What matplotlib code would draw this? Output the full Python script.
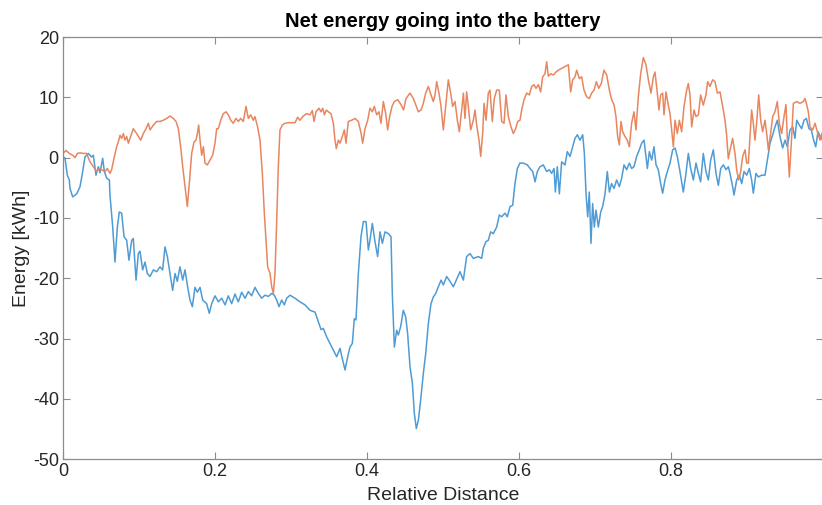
import matplotlib.pyplot as plt

# --- battery energy along the route (blue) ---
blue_x = [
    0.000, 0.0026, 0.0057, 0.0083, 0.0092, 0.0127, 0.0180, 0.0224, 0.0259, 0.0289,
    0.0333, 0.0377, 0.0399, 0.0434, 0.0465, 0.0487, 0.0522, 0.0544, 0.0575, 0.0610,
    0.0618, 0.0654, 0.0684, 0.0715, 0.0741, 0.0772, 0.0803, 0.0838, 0.0868, 0.0904,
    0.0925, 0.0961, 0.0991, 0.1013, 0.1048, 0.1079, 0.1110, 0.1145, 0.1189, 0.1232,
    0.1276, 0.1311, 0.1342, 0.1373, 0.1408, 0.1443, 0.1474, 0.1504, 0.1539, 0.1575,
    0.1605, 0.1640, 0.1671, 0.1702, 0.1737, 0.1768, 0.1803, 0.1838, 0.1890, 0.1925,
    0.1956, 0.2000, 0.2044, 0.2088, 0.2132, 0.2175, 0.2219, 0.2263, 0.2307, 0.2351,
    0.2395, 0.2439, 0.2482, 0.2526, 0.2570, 0.2614, 0.2658, 0.2702, 0.2746, 0.2781,
    0.2811, 0.2842, 0.2877, 0.2912, 0.2943, 0.2987, 0.3053, 0.3118, 0.3184, 0.3250,
    0.3316, 0.3360, 0.3395, 0.3425, 0.3469, 0.3513, 0.3557, 0.3601, 0.3645, 0.3675,
    0.3711, 0.3746, 0.3776, 0.3807, 0.3833, 0.3855, 0.3886, 0.3921, 0.3952, 0.3987,
    0.4018, 0.4039, 0.4070, 0.4105, 0.4140, 0.4171, 0.4202, 0.4237, 0.4281, 0.4316,
    0.4333, 0.4360, 0.4390, 0.4412, 0.4443, 0.4478, 0.4509, 0.4535, 0.4566, 0.4597,
    0.4623, 0.4649, 0.4676, 0.4706, 0.4741, 0.4772, 0.4807, 0.4842, 0.4873, 0.4904,
    0.4939, 0.4974, 0.5004, 0.5048, 0.5092, 0.5136, 0.5224, 0.5268, 0.5311, 0.5355,
    0.5399, 0.5465, 0.5509, 0.5531, 0.5566, 0.5596, 0.5627, 0.5662, 0.5706, 0.5741,
    0.5772, 0.5816, 0.5846, 0.5882, 0.5917, 0.5947, 0.5978, 0.6013, 0.6057, 0.6110,
    0.6145, 0.6180, 0.6211, 0.6241, 0.6276, 0.6320, 0.6364, 0.6399, 0.6430, 0.6461,
    0.6478, 0.6504, 0.6531, 0.6561, 0.6605, 0.6636, 0.6671, 0.6706, 0.6737, 0.6768,
    0.6803, 0.6838, 0.6860, 0.6882, 0.6904, 0.6925, 0.6947, 0.6969, 0.6991, 0.7013,
    0.7044, 0.7075, 0.7101, 0.7132, 0.7162, 0.7189, 0.7219, 0.7250, 0.7285, 0.7320,
    0.7351, 0.7382, 0.7417, 0.7452, 0.7482, 0.7513, 0.7548, 0.7583, 0.7614, 0.7645,
    0.7689, 0.7715, 0.7746, 0.7776, 0.7803, 0.7833, 0.7864, 0.7890, 0.7921, 0.7952,
    0.7987, 0.8022, 0.8053, 0.8083, 0.8118, 0.8162, 0.8197, 0.8228, 0.8259, 0.8294,
    0.8329, 0.8360, 0.8390, 0.8425, 0.8460, 0.8491, 0.8522, 0.8557, 0.8592, 0.8623,
    0.8654, 0.8689, 0.8724, 0.8754, 0.8776, 0.8811, 0.8829, 0.8864, 0.8899, 0.8930,
    0.8961, 0.8996, 0.9031, 0.9061, 0.9083, 0.9118, 0.9149, 0.9193, 0.9237, 0.9268,
    0.9303, 0.9338, 0.9368, 0.9399, 0.9434, 0.9469, 0.9500, 0.9531, 0.9566, 0.9601,
    0.9631, 0.9654, 0.9689, 0.9719, 0.9750, 0.9781, 0.9816, 0.9846, 0.9877, 0.9904,
    0.9934, 0.9978, 1.0000,
]
blue_y = [
    0.2, -0.1, -2.9, -3.7, -5.1, -6.5, -6.0, -4.8, -2.3, 0.1,
    0.7, 0.1, 0.4, -2.9, -1.5, -2.5, -0.1, -2.3, -3.4, -3.7,
    -6.2, -11.5, -17.3, -11.5, -9.0, -9.2, -13.1, -13.7, -17.0, -13.7,
    -13.4, -20.3, -15.9, -15.5, -18.6, -17.3, -19.2, -19.7, -18.6, -18.9,
    -18.1, -18.6, -14.8, -16.4, -19.2, -22.0, -19.2, -20.5, -18.1, -20.3,
    -18.6, -21.4, -23.6, -24.7, -21.5, -22.3, -21.5, -23.6, -24.2, -25.8,
    -24.2, -22.9, -23.9, -23.3, -24.4, -22.9, -24.2, -22.6, -23.9, -22.3,
    -23.3, -22.2, -22.9, -21.5, -22.5, -23.3, -22.8, -23.0, -22.5, -22.8,
    -23.6, -24.7, -23.6, -24.4, -23.3, -22.8, -23.3, -23.9, -24.4, -25.3,
    -25.6, -27.2, -28.5, -28.3, -29.7, -30.8, -31.9, -33.0, -31.6, -33.3,
    -35.2, -33.0, -31.4, -30.8, -26.7, -26.9, -19.2, -13.1, -10.6, -10.6,
    -15.3, -13.7, -10.9, -13.9, -16.4, -12.3, -14.2, -12.3, -12.6, -13.1,
    -22.5, -31.4, -28.6, -29.4, -28.0, -25.3, -26.4, -29.2, -34.7, -37.4,
    -42.4, -44.9, -43.5, -40.2, -35.8, -32.5, -27.5, -24.2, -23.1, -22.5,
    -21.4, -20.3, -21.1, -19.7, -20.5, -21.4, -18.9, -20.3, -16.4, -15.9,
    -16.7, -16.4, -16.7, -15.0, -13.9, -13.7, -12.3, -12.6, -11.5, -9.5,
    -9.8, -9.2, -9.8, -8.1, -7.9, -4.3, -1.8, -0.9, -0.9, -1.2,
    -1.8, -2.3, -4.0, -2.3, -1.5, -1.2, -2.3, -2.0, -2.6, -1.8,
    -5.7, -1.5, -6.0, -0.7, -1.2, 1.0, 0.2, 1.8, 3.2, 3.8,
    2.9, 3.8, 0.7, -6.0, -9.8, -5.7, -14.2, -7.6, -11.5, -8.7,
    -11.5, -9.0, -8.1, -6.0, -2.3, -5.7, -4.3, -5.1, -3.7, -4.8,
    -3.4, -1.2, -2.0, -0.9, -1.8, -1.5, 0.2, 1.3, 2.4, 2.9,
    -1.8, 1.0, -0.4, 1.8, -1.2, -2.0, -4.3, -5.9, -3.7, -2.3,
    -0.9, 1.3, 1.6, 0.2, -2.3, -5.7, -2.6, 0.7, -1.8, -3.7,
    -0.9, -2.6, -4.0, 0.7, -2.3, -3.7, -0.4, 1.3, -2.6, -4.6,
    -1.8, -1.2, -2.0, -1.5, -2.6, -4.8, -6.2, -3.7, -2.9, -4.3,
    -2.3, -2.9, -1.8, -3.7, -5.9, -2.6, -3.2, -2.9, -2.9, -0.4,
    2.4, 3.8, 5.1, 6.2, 3.5, 1.6, 2.9, 1.8, 4.6, 5.1,
    3.2, 6.2, 5.4, 4.8, 6.2, 6.5, 4.8, 4.6, 2.9, 1.8,
    4.3, 3.2, 2.8,
]

# --- second energy trace (orange) ---
orange_x = [
    0.000, 0.0040, 0.0083, 0.0127, 0.0158, 0.0189, 0.0224, 0.0268, 0.0311, 0.0355,
    0.0399, 0.0443, 0.0478, 0.0509, 0.0553, 0.0583, 0.0618, 0.0640, 0.0671, 0.0706,
    0.0728, 0.0750, 0.0772, 0.0794, 0.0816, 0.0838, 0.0860, 0.0890, 0.0925, 0.0969,
    0.1022, 0.1057, 0.1092, 0.1123, 0.1145, 0.1189, 0.1232, 0.1276, 0.1320, 0.1364,
    0.1408, 0.1452, 0.1487, 0.1518, 0.1548, 0.1575, 0.1605, 0.1636, 0.1662, 0.1693,
    0.1724, 0.1750, 0.1768, 0.1785, 0.1803, 0.1825, 0.1847, 0.1868, 0.1899, 0.1934,
    0.1969, 0.2000, 0.2022, 0.2044, 0.2075, 0.2110, 0.2145, 0.2175, 0.2206, 0.2241,
    0.2276, 0.2307, 0.2338, 0.2373, 0.2408, 0.2439, 0.2469, 0.2504, 0.2526, 0.2561,
    0.2592, 0.2623, 0.2649, 0.2671, 0.2693, 0.2724, 0.2746, 0.2768, 0.2789, 0.2811,
    0.2833, 0.2855, 0.2886, 0.2921, 0.2965, 0.3009, 0.3053, 0.3088, 0.3118, 0.3162,
    0.3206, 0.3250, 0.3281, 0.3303, 0.3329, 0.3368, 0.3395, 0.3417, 0.3439, 0.3465,
    0.3491, 0.3526, 0.3557, 0.3579, 0.3596, 0.3623, 0.3645, 0.3675, 0.3702, 0.3724,
    0.3754, 0.3798, 0.3842, 0.3886, 0.3921, 0.3943, 0.3974, 0.4009, 0.4039, 0.4070,
    0.4096, 0.4127, 0.4158, 0.4184, 0.4215, 0.4246, 0.4272, 0.4298, 0.4329, 0.4360,
    0.4404, 0.4447, 0.4482, 0.4513, 0.4566, 0.4610, 0.4640, 0.4676, 0.4711, 0.4741,
    0.4772, 0.4807, 0.4842, 0.4873, 0.4895, 0.4917, 0.4947, 0.4974, 0.5004, 0.5035,
    0.5070, 0.5101, 0.5127, 0.5158, 0.5189, 0.5215, 0.5246, 0.5268, 0.5289, 0.5311,
    0.5333, 0.5364, 0.5399, 0.5421, 0.5443, 0.5474, 0.5496, 0.5522, 0.5540, 0.5566,
    0.5596, 0.5618, 0.5649, 0.5675, 0.5706, 0.5741, 0.5772, 0.5803, 0.5829, 0.5860,
    0.5895, 0.5925, 0.5956, 0.5983, 0.6013, 0.6035, 0.6066, 0.6101, 0.6136, 0.6167,
    0.6197, 0.6224, 0.6255, 0.6285, 0.6311, 0.6342, 0.6364, 0.6386, 0.6417, 0.6452,
    0.6487, 0.6518, 0.6561, 0.6605, 0.6649, 0.6680, 0.6706, 0.6737, 0.6759, 0.6794,
    0.6825, 0.6855, 0.6890, 0.6925, 0.6956, 0.6987, 0.7018, 0.7049, 0.7083, 0.7118,
    0.7154, 0.7189, 0.7219, 0.7250, 0.7276, 0.7298, 0.7320, 0.7342, 0.7364, 0.7395,
    0.7425, 0.7452, 0.7482, 0.7513, 0.7539, 0.7570, 0.7601, 0.7636, 0.7671, 0.7702,
    0.7737, 0.7768, 0.7789, 0.7820, 0.7842, 0.7864, 0.7890, 0.7908, 0.7934, 0.7965,
    0.7987, 0.8009, 0.8031, 0.8053, 0.8083, 0.8110, 0.8140, 0.8171, 0.8206, 0.8228,
    0.8250, 0.8272, 0.8303, 0.8329, 0.8360, 0.8390, 0.8425, 0.8460, 0.8482, 0.8513,
    0.8548, 0.8579, 0.8610, 0.8645, 0.8680, 0.8711, 0.8732, 0.8754, 0.8776, 0.8811,
    0.8842, 0.8864, 0.8890, 0.8917, 0.8943, 0.8974, 0.8996, 0.9018, 0.9040, 0.9061,
    0.9083, 0.9105, 0.9127, 0.9154, 0.9180, 0.9206, 0.9237, 0.9259, 0.9281, 0.9311,
    0.9338, 0.9368, 0.9399, 0.9425, 0.9456, 0.9487, 0.9513, 0.9531, 0.9557, 0.9588,
    0.9610, 0.9654, 0.9697, 0.9741, 0.9763, 0.9785, 0.9807, 0.9829, 0.9864, 0.9895,
    0.9925, 0.9961, 1.0000,
]
orange_y = [
    0.7, 1.2, 0.7, 0.4, 0.0, 0.7, 0.8, 0.7, 0.7, -0.7,
    -1.5, -2.3, -1.8, -2.0, -2.3, -1.8, -2.6, -2.0, -0.1, 1.8,
    2.6, 3.7, 3.2, 4.0, 2.9, 3.5, 2.4, 3.5, 4.8, 4.0,
    2.9, 4.0, 4.8, 5.7, 4.6, 5.4, 6.0, 6.0, 6.2, 6.5,
    6.9, 6.5, 6.0, 4.8, 1.8, -1.5, -4.8, -8.1, -4.3, 0.7,
    2.6, 2.9, 4.0, 5.4, 2.9, 0.4, 1.8, -0.9, -1.2, -0.4,
    0.4, 2.4, 4.8, 4.8, 6.2, 7.3, 7.6, 7.1, 6.2, 5.7,
    6.5, 6.0, 6.5, 6.0, 8.5, 6.5, 7.1, 6.2, 6.8, 5.1,
    2.9, -2.6, -9.2, -13.6, -18.1, -19.2, -21.4, -22.5, -19.2, -10.9,
    -1.5, 4.6, 5.4, 5.7, 5.8, 5.8, 5.8, 6.7, 6.2, 6.9,
    7.3, 7.1, 7.8, 6.0, 7.6, 8.2, 7.6, 8.2, 7.1, 7.9,
    7.6, 7.3, 5.7, 2.9, 1.5, 2.9, 2.4, 3.5, 4.6, 2.4,
    6.0, 6.2, 6.5, 6.0, 4.1, 2.4, 4.8, 6.2, 8.2, 7.6,
    8.5, 7.1, 7.6, 5.7, 9.3, 7.3, 4.6, 6.8, 8.5, 9.3,
    9.6, 8.8, 7.9, 9.8, 10.7, 9.8, 8.8, 7.6, 7.9, 9.0,
    10.7, 11.8, 10.4, 9.3, 10.4, 12.6, 10.7, 8.5, 4.6, 8.5,
    12.9, 10.7, 8.5, 9.3, 6.2, 4.3, 7.9, 10.7, 6.5, 10.9,
    8.5, 4.6, 6.2, 7.9, 5.4, 2.9, 0.2, 4.0, 9.0, 6.2,
    10.7, 11.2, 6.0, 9.8, 11.2, 11.2, 6.0, 5.7, 10.4, 6.8,
    5.1, 4.0, 4.8, 6.0, 6.2, 7.9, 9.6, 10.7, 10.4, 11.8,
    12.1, 11.5, 12.1, 10.9, 13.4, 13.9, 15.9, 13.5, 13.9, 13.7,
    14.2, 14.5, 14.8, 15.1, 15.4, 10.9, 12.9, 13.4, 14.5, 13.1,
    13.4, 11.2, 10.1, 9.8, 10.7, 11.2, 12.6, 11.5, 12.3, 14.5,
    13.7, 11.2, 9.6, 8.8, 6.8, 3.5, 2.1, 6.0, 4.3, 3.5,
    2.9, 1.8, 5.7, 7.6, 4.6, 10.1, 13.9, 16.6, 15.4, 12.9,
    10.7, 13.4, 14.2, 10.7, 7.9, 10.4, 10.7, 7.1, 10.9, 8.7,
    7.3, 4.6, 1.8, 6.2, 4.0, 6.2, 4.3, 8.5, 11.2, 12.3,
    10.4, 5.1, 7.9, 6.8, 7.1, 10.4, 8.7, 10.4, 12.6, 11.8,
    12.9, 12.6, 10.7, 10.9, 8.5, 6.2, 3.7, -0.2, 1.2, 3.2,
    0.7, -2.0, -3.7, -2.3, 0.2, 1.3, -0.9, -0.9, 3.5, 7.9,
    5.7, 2.9, 5.7, 10.4, 6.2, 4.3, 6.2, 4.0, 1.3, 4.0,
    6.8, 7.6, 9.3, 5.7, 4.0, 6.8, 8.8, 2.9, -3.2, 3.5,
    9.0, 9.3, 9.0, 9.3, 9.8, 8.8, 7.6, 5.1, 4.6, 5.7,
    4.3, 2.9, 4.5,
]

x_ticks = [0, 0.2, 0.4, 0.6, 0.8]
x_tick_labels = ['0', '0.2', '0.4', '0.6', '0.8']
y_ticks = [-50, -40, -30, -20, -10, 0, 10, 20]

plt.rcParams['font.family'] = ['Liberation Sans', 'DejaVu Sans']
plt.rcParams['axes.unicode_minus'] = False

fig = plt.figure(figsize=(8.22, 5.05), dpi=100)
ax = fig.add_axes([63 / 822, 1 - 459.3 / 505, 760 / 822, 422.3 / 505])

ax.plot(blue_x, blue_y, color='#4f9bd4', lw=1.1)
ax.plot(orange_x, orange_y, color='#e8865f', lw=1.1)

ax.set_xlim(0, 1)
ax.set_ylim(-50, 20)
ax.set_xticks(x_ticks)
ax.set_xticklabels(x_tick_labels)
ax.set_yticks(y_ticks)

# matlab-style box with inward ticks on all sides
for side in ax.spines.values():
    side.set_color('#8c8c8c')
    side.set_linewidth(0.9)
ax.tick_params(direction='in', length=5, width=0.8, color='#8c8c8c',
               top=True, right=True, labelsize=13, labelcolor='#262626', pad=3)

ax.set_title('Net energy going into the battery', fontsize=14.5,
             fontweight='bold', pad=7)
ax.set_xlabel('Relative Distance', fontsize=14, color='#262626', labelpad=5)
ax.set_ylabel('Energy [kWh]', fontsize=14, color='#262626', labelpad=2)

fig.savefig('out.png', dpi=100)
